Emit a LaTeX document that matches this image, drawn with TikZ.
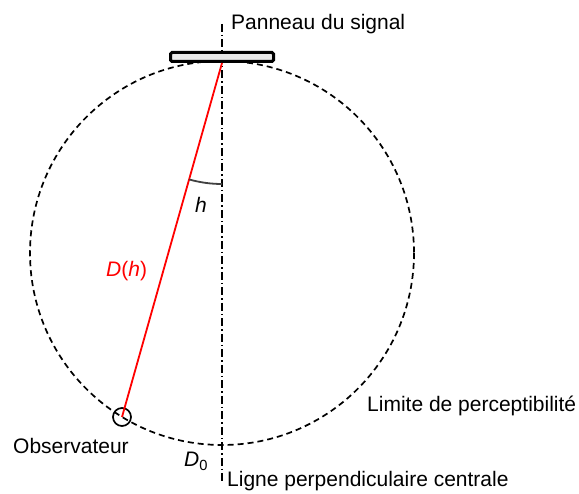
\documentclass[tikz,border=0pt]{standalone}
\usepackage{fontspec}
\setmainfont{Liberation Sans}
\usepackage{tikz}

\begin{document}
\begin{tikzpicture}[
    x=1pt, y=-1pt,
    lbl/.style={font=\fontsize{21}{25}\selectfont, inner sep=0pt, anchor=base west},
    limit/.style={line width=1.7pt, dash pattern=on 6pt off 4pt},
    axis/.style={line width=1.4pt, dash pattern=on 8pt off 3pt on 1.5pt off 3pt},
    sight/.style={red, line width=1.8pt},
    panel/.style={rectangle, draw, fill=gray!18, line width=3pt, rounded corners=1.5pt, minimum width=103pt, minimum height=9pt, inner sep=0pt},
    observer/.style={circle, draw, line width=1.7pt, minimum size=18pt, inner sep=0pt},
    arcmark/.style={black!75, line width=1.8pt}
]
\useasboundingbox (0,0) rectangle (579,494);

\coordinate (centre) at (222,253);
\coordinate (top) at (222,24);
\coordinate (bottom) at (222,483);

\draw[limit] (centre) circle[radius=192];
\draw[axis] (top) -- (bottom);

\node[panel] (panneau) at (222,57) {};
\node[observer] (obs) at (122,417) {};
\draw[sight] (panneau.south) -- (obs.center);
\draw[arcmark] (panneau.south) ++(0,121) arc[start angle=90, end angle=105.7, radius=121];

\node[lbl] (nom) at (231,30) {Panneau du signal};
\node[lbl] (limite) at (367,412) {Limite de perceptibilité};
\node[lbl] (ligne) at (227,487) {Ligne perpendiculaire centrale};
\node[lbl] (obsname) at (13,454) {Observateur};
\node[lbl] (dzero) at (184,467) {\textit{D}\textsubscript{0}};
\node[lbl] (angleh) at (195,213) {\textit{h}};
\node[lbl, red] (distance) at (106,277) {\textit{D}(\textit{h})};
\end{tikzpicture}
\end{document}
